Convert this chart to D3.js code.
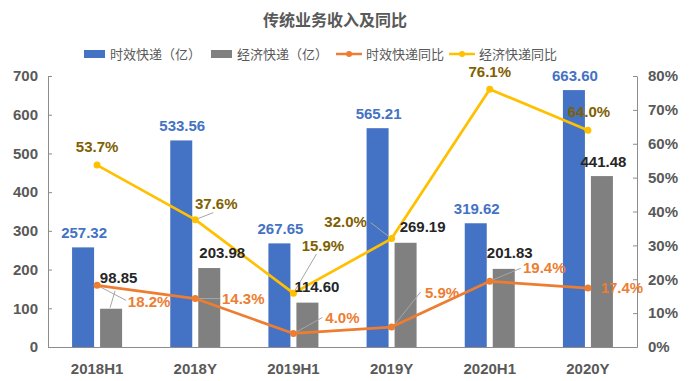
<!DOCTYPE html>
<html><head><meta charset="utf-8">
<script src="https://cdn.jsdelivr.net/npm/d3@7/dist/d3.min.js"></script>
<style>
body{margin:0;background:#fff;}
svg{display:block;font-family:"Liberation Sans","Noto Sans CJK SC",Arial,sans-serif;}
</style></head>
<body><svg id="c" width="690" height="381"></svg>
<script>
// ---- data ----
const title = "传统业务收入及同比";
const categories = ["2018H1","2018Y","2019H1","2019Y","2020H1","2020Y"];
const seriesNames = ["时效快递（亿）","经济快递（亿）","时效快递同比","经济快递同比"];
const timeRevenue = [257.32, 533.56, 267.65, 565.21, 319.62, 663.60];
const econRevenue = [98.85, 203.98, 114.60, 269.19, 201.83, 441.48];
const timeYoY = [18.2, 14.3, 4.0, 5.9, 19.4, 17.4];
const econYoY = [53.7, 37.6, 15.9, 32.0, 76.1, 64.0];
const leftTicks = [0,100,200,300,400,500,600,700];
const rightTicks = [0,10,20,30,40,50,60,70,80];

// ---- label layout (manual nudges, like the source chart) ----
const econLabelNudge = [[7.5,-26],[13,-10],[9.5,-11],[17,-11],[6,-11],[1.5,-9]];
const econLeader = [[[-1,-1],[4,-18]],null,null,null,null,null];
const econYoYNudge = [[0,-13],[21,-11],[29.5,-42],[-46,-12],[0,-12],[1,-13]];
const econYoYLeader = [null,[18,-7],[23,-39],[-21,-16],null,null];
const timeYoYNudge = [[52,22],[48,5],[49,-10],[50.5,-29],[54.5,-8],[34,5]];
const timeYoYLeader = [[29,15],[25,0],[29,-16],[29,-35],[31,-13],null];

const colors = {blue:"#4472C4", gray:"#808080", orange:"#ED7D31", yellow:"#FFC000",
  text:"#595959", axis:"#8c8c8c", econLab:"#262626", yellowLab:"#7F6000", leader:"#a6a6a6"};

const svg = d3.select("#c");
const L = 48, R = 637, T = 76, B = 347;

const x = d3.scaleBand().domain(categories).range([L, R]);
const x1 = d3.scaleBand().domain(["time","econ"]).range([0, x.bandwidth()])
  .paddingInner(0.214).paddingOuter(0.86);
const yL = d3.scaleLinear().domain([0,700]).range([B, T]);
const yR = d3.scaleLinear().domain([0,80]).range([B, T]);
const cx = c => x(c) + x.bandwidth()/2;

// title
svg.append("text").attr("x",335).attr("y",26).attr("text-anchor","middle")
  .attr("font-family","'Noto Sans CJK SC',sans-serif").attr("font-size",16).attr("font-weight","bold")
  .attr("fill",colors.text).text(title);

// axes
const axL = svg.append("g").attr("transform",`translate(${L},0)`)
  .call(d3.axisLeft(yL).tickValues(leftTicks).tickSizeInner(-4).tickSizeOuter(0).tickPadding(10));
const axR = svg.append("g").attr("transform",`translate(${R},0)`)
  .call(d3.axisRight(yR).tickValues(rightTicks).tickFormat(d=>d+"%").tickSizeInner(-4).tickSizeOuter(0).tickPadding(11));
const axB = svg.append("g").attr("transform",`translate(0,${B})`)
  .call(d3.axisBottom(x).tickSize(0).tickPadding(16));
[axL,axR,axB].forEach(g=>{
  g.selectAll("path,line").attr("stroke",colors.axis);
  g.selectAll("text").attr("fill",colors.text).attr("font-size",15).attr("font-weight","bold")
   .attr("font-family","'Liberation Sans',Arial,sans-serif");
});

// bars
const gb = svg.append("g");
gb.selectAll(".bt").data(categories).join("rect")
  .attr("x",c=>x(c)+x1("time")).attr("width",x1.bandwidth())
  .attr("y",(c,i)=>yL(timeRevenue[i])).attr("height",(c,i)=>B-yL(timeRevenue[i]))
  .attr("fill",colors.blue);
gb.selectAll(".be").data(categories).join("rect")
  .attr("x",c=>x(c)+x1("econ")).attr("width",x1.bandwidth())
  .attr("y",(c,i)=>yL(econRevenue[i])).attr("height",(c,i)=>B-yL(econRevenue[i]))
  .attr("fill",colors.gray);

// leaders (drawn under lines)
const gl = svg.append("g").attr("stroke",colors.leader).attr("stroke-width",1).attr("fill","none");
categories.forEach((c,i)=>{
  const px = cx(c);
  if (timeYoYLeader[i]) { const py=yR(timeYoY[i]); const e=timeYoYLeader[i];
    gl.append("line").attr("x1",px+2).attr("y1",py+(e[1]>0?1:(e[1]<0?-1:0))).attr("x2",px+e[0]).attr("y2",py+e[1]); }
  if (econYoYLeader[i]) { const py=yR(econYoY[i]); const e=econYoYLeader[i];
    gl.append("line").attr("x1",px).attr("y1",py).attr("x2",px+e[0]).attr("y2",py+e[1]); }
  if (econLeader[i]) { const bx = x(c)+x1("econ")+x1.bandwidth()/2, by=yL(econRevenue[i]); const e=econLeader[i];
    gl.append("line").attr("x1",bx+e[0][0]).attr("y1",by+e[0][1]).attr("x2",bx+e[1][0]).attr("y2",by+e[1][1]); }
});

// lines
function drawLine(vals,color){
  const line = d3.line().x((d,i)=>cx(categories[i])).y(d=>yR(d));
  svg.append("path").datum(vals).attr("d",line).attr("fill","none")
    .attr("stroke",color).attr("stroke-width",2.75).attr("stroke-linejoin","round");
  svg.append("g").selectAll("circle").data(vals).join("circle")
    .attr("cx",(d,i)=>cx(categories[i])).attr("cy",d=>yR(d)).attr("r",3.5).attr("fill",color);
}
drawLine(timeYoY, colors.orange);
drawLine(econYoY, colors.yellow);

// data labels
const gt = svg.append("g").attr("font-size",15).attr("font-weight","bold")
  .attr("font-family","'Liberation Sans',Arial,sans-serif").attr("text-anchor","middle");
categories.forEach((c,i)=>{
  const bt = x(c)+x1("time")+x1.bandwidth()/2;
  gt.append("text").attr("x",bt+1).attr("y",yL(timeRevenue[i])-9).attr("fill",colors.blue)
    .text(timeRevenue[i].toFixed(2));
  const be = x(c)+x1("econ")+x1.bandwidth()/2;
  gt.append("text").attr("x",be+econLabelNudge[i][0]).attr("y",yL(econRevenue[i])+econLabelNudge[i][1])
    .attr("fill",colors.econLab).text(econRevenue[i].toFixed(2));
  gt.append("text").attr("x",cx(c)+econYoYNudge[i][0]).attr("y",yR(econYoY[i])+econYoYNudge[i][1])
    .attr("fill",colors.yellowLab).text(econYoY[i].toFixed(1)+"%");
  gt.append("text").attr("x",cx(c)+timeYoYNudge[i][0]).attr("y",yR(timeYoY[i])+timeYoYNudge[i][1])
    .attr("fill",colors.orange).text(timeYoY[i].toFixed(1)+"%");
});

// legend
const lg = svg.append("g").attr("font-family","'Noto Sans CJK SC',sans-serif").attr("font-size",13).attr("fill",colors.text);
let lx = 84; const ly = 54;
const kinds = ["rect","rect","line","line"], lcol=[colors.blue,colors.gray,colors.orange,colors.yellow];
seriesNames.forEach((n,k)=>{
  if (kinds[k]==="rect") {
    lg.append("rect").attr("x",lx).attr("y",ly-4).attr("width",21).attr("height",8).attr("fill",lcol[k]);
    lx += 26;
  } else {
    lg.append("line").attr("x1",lx).attr("x2",lx+26).attr("y1",ly).attr("y2",ly).attr("stroke",lcol[k]).attr("stroke-width",2.5);
    lg.append("circle").attr("cx",lx+13).attr("cy",ly).attr("r",3).attr("fill",lcol[k]);
    lx += 30;
  }
  const t = lg.append("text").attr("x",lx).attr("y",ly+4.5).text(n);
  lx += t.node().getComputedTextLength() + (k===1?8:(k===2?5:10));
});
</script></body></html>
